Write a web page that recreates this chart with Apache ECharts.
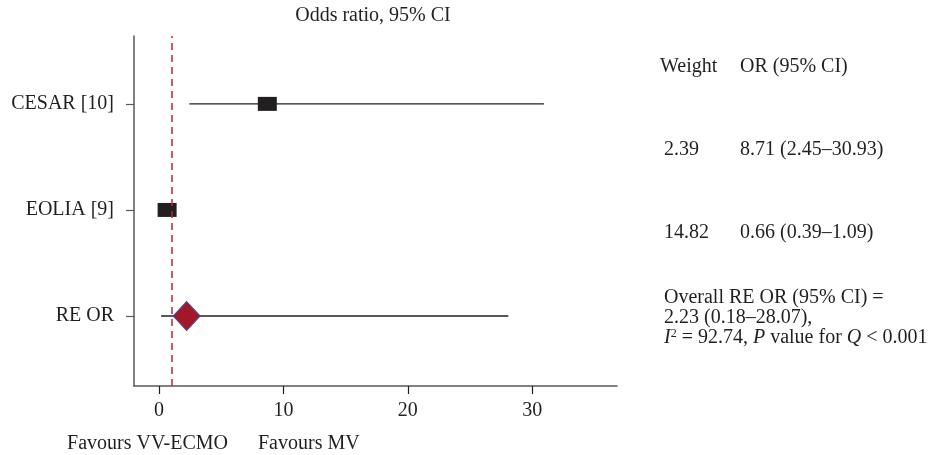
<!DOCTYPE html>
<html>
<head>
<meta charset="utf-8">
<script src="https://cdn.jsdelivr.net/npm/echarts@6/dist/echarts.min.js"></script>
<style>
html,body{margin:0;padding:0;background:#fff;}
#chart{width:944px;height:455px;}
</style>
</head>
<body>
<div id="chart"></div>
<script>
// ---- data ----
var studies = ['CESAR [10]', 'EOLIA [9]', 'RE OR'];
var oddsRatio = [8.71, 0.66, 2.23];
var ciLow = [2.45, 0.39, 0.18];
var ciHigh = [30.93, 1.09, 28.07];
var weights = [2.39, 14.82];
var xTicks = [0, 10, 20, 30];
var nullValue = 1;
var heterogeneity = { i2: 92.74, p: '< 0.001' };

var FONT = '"Liberation Serif", "DejaVu Serif", serif';
var TXT = '#231f20';
var n = studies.length;
var yPos = studies.map(function (s, i) { return n - i; });

var whiskerData = studies.map(function (s, i) { return [ciLow[i], ciHigh[i], yPos[i]]; });
var squareData = [];
var diamondData = [];
studies.forEach(function (s, i) {
  if (i < weights.length) squareData.push([oddsRatio[i], yPos[i]]);
  else diamondData.push([oddsRatio[i], yPos[i]]);
});

var chart = echarts.init(document.getElementById('chart'));

var textStyle = { fontFamily: FONT, fontSize: 20, fill: TXT };
function txt(x, y, s, extra) {
  var st = Object.assign({}, textStyle, { text: s, textVerticalAlign: 'middle' }, extra || {});
  return { type: 'text', left: x, top: y, style: st, silent: true };
}

var graphics = [];
graphics.push({ type: 'text', x: 373, y: 16, style: Object.assign({}, textStyle, { text: 'Odds ratio, 95% CI', textAlign: 'center', textVerticalAlign: 'middle' }) });
graphics.push({ type: 'text', x: 660, y: 67, style: Object.assign({}, textStyle, { text: 'Weight', textVerticalAlign: 'middle' }) });
graphics.push({ type: 'text', x: 740, y: 67, style: Object.assign({}, textStyle, { text: 'OR (95% CI)', textVerticalAlign: 'middle' }) });
var rowY = [150, 233];
weights.forEach(function (w, i) {
  graphics.push({ type: 'text', x: 664, y: rowY[i], style: Object.assign({}, textStyle, { text: w.toFixed(2), textVerticalAlign: 'middle' }) });
  graphics.push({ type: 'text', x: 740, y: rowY[i], style: Object.assign({}, textStyle, { text: oddsRatio[i].toFixed(2) + ' (' + ciLow[i].toFixed(2) + '\u2013' + ciHigh[i].toFixed(2) + ')', textVerticalAlign: 'middle' }) });
});
var k = n - 1;
graphics.push({ type: 'text', x: 664, y: 298, style: Object.assign({}, textStyle, { text: 'Overall RE OR (95% CI) =', textVerticalAlign: 'middle' }) });
graphics.push({ type: 'text', x: 664, y: 318, style: Object.assign({}, textStyle, { text: oddsRatio[k].toFixed(2) + ' (' + ciLow[k].toFixed(2) + '\u2013' + ciHigh[k].toFixed(2) + '),', textVerticalAlign: 'middle' }) });
graphics.push({ type: 'text', x: 664, y: 338, style: {
  text: '{it|I}{sup|2} = ' + heterogeneity.i2.toFixed(2) + ', {it|P} value for {it|Q} ' + heterogeneity.p,
  fontFamily: FONT, fontSize: 20, fill: TXT, textVerticalAlign: 'middle',
  rich: {
    it: { fontFamily: FONT, fontSize: 20, fontStyle: 'italic', fill: TXT },
    sup: { fontFamily: FONT, fontSize: 12, fill: TXT, verticalAlign: 'top', padding: [0, 0, 8, 0] }
  }
} });
graphics.push({ type: 'text', x: 228, y: 444, style: Object.assign({}, textStyle, { text: 'Favours VV-ECMO', textAlign: 'right', textVerticalAlign: 'middle' }) });
graphics.push({ type: 'text', x: 258, y: 444, style: Object.assign({}, textStyle, { text: 'Favours MV', textVerticalAlign: 'middle' }) });

var option = {
  backgroundColor: '#fff',
  animation: false,
  grid: { left: 134, right: 327, top: 36, bottom: 69 },
  xAxis: {
    type: 'value', min: -2, max: 36.8,
    splitLine: { show: false },
    axisLine: { show: true, onZero: false, lineStyle: { color: '#58595b', width: 1.5 } },
    axisTick: { show: true, length: 8, customValues: xTicks, lineStyle: { color: '#231f20', width: 1.2 } },
    axisLabel: { customValues: xTicks, margin: 15, fontFamily: FONT, fontSize: 20, color: TXT }
  },
  yAxis: {
    type: 'value', min: 0.34, max: 3.64,
    splitLine: { show: false },
    axisLine: { show: true, onZero: false, lineStyle: { color: '#58595b', width: 1.5 } },
    axisTick: { show: true, length: 8, customValues: yPos, lineStyle: { color: '#58595b', width: 1.2 } },
    axisLabel: {
      customValues: yPos, margin: 20, fontFamily: FONT, fontSize: 20, color: TXT,
      formatter: function (v) { var i = n - Math.round(v); return studies[i] || ''; }
    }
  },
  series: [
    {
      type: 'custom', z: 2,
      data: whiskerData,
      encode: { x: [0, 1], y: 2 },
      renderItem: function (params, api) {
        var a = api.coord([api.value(0), api.value(2)]);
        var b = api.coord([api.value(1), api.value(2)]);
        return { type: 'line', shape: { x1: a[0], y1: a[1], x2: b[0], y2: b[1] }, style: { stroke: '#231f20', lineWidth: 1.3 } };
      }
    },
    {
      type: 'scatter', z: 3,
      data: squareData,
      symbol: 'rect', symbolSize: [19, 14],
      itemStyle: { color: '#231f20', opacity: 1 }
    },
    {
      type: 'scatter', z: 3,
      data: diamondData,
      symbol: 'diamond', symbolSize: [27, 29],
      itemStyle: { color: '#a11828', borderColor: '#3d4d9c', borderWidth: 1, opacity: 1 }
    },
    {
      type: 'line', z: 5, data: [], 
      markLine: {
        silent: true, symbol: ['none', 'none'], label: { show: false },
        lineStyle: { color: '#c8202f', type: [7, 5], width: 1.5 },
        data: [{ xAxis: nullValue }]
      }
    }
  ],
  graphic: graphics
};
chart.setOption(option);
</script>
</body>
</html>
